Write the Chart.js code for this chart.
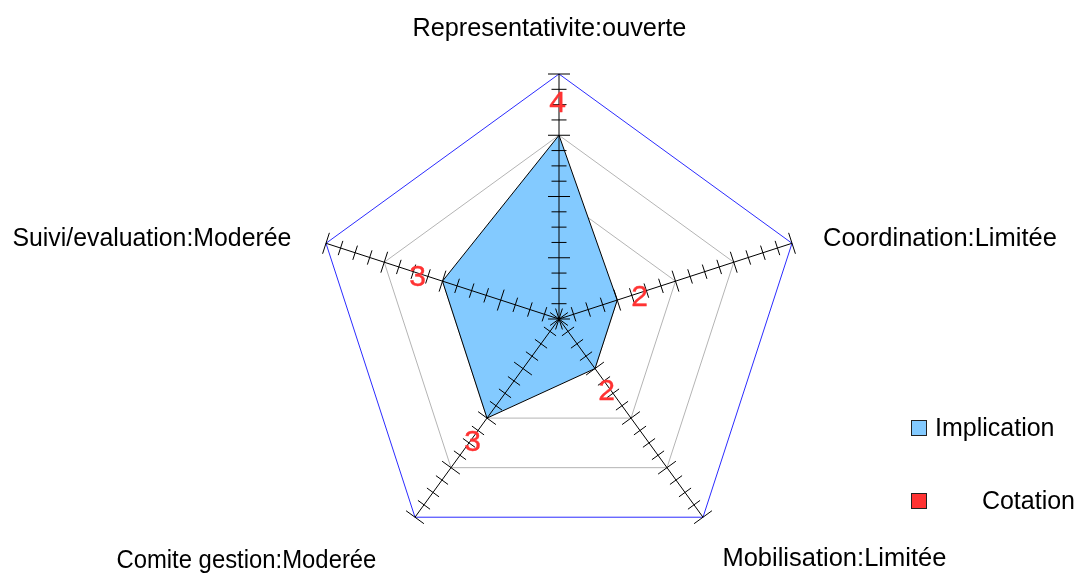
<!DOCTYPE html>
<html><head><meta charset="utf-8">
<script src="https://cdn.jsdelivr.net/npm/chart.js@4/dist/chart.umd.min.js"></script>
<style>html,body{margin:0;padding:0;background:#fff;overflow:hidden}</style>
</head><body>
<canvas id="c" width="1080" height="573"></canvas>
<script>
const categories = ["Representativite:ouverte", "Coordination:Limitée", "Mobilisation:Limitée", "Comite gestion:Moderée", "Suivi/evaluation:Moderée"];
const implication = [4, 2, 2, 3, 3];
const cotation = [4, 2, 2, 3, 3];
const seriesNames = ["Implication", "Cotation"];
const scaleMin = 1, scaleMax = 5, scaleStep = 1, minorStep = 0.25;

const FONT = '"Liberation Sans", Arial, sans-serif';
const FILL_BLUE = 'rgb(131,202,255)';
const RED = '#ff3333';

// label anchor offsets relative to each outer vertex: [dx, dy, align, maxWidth]
const labelOffsets = [[-9.6, -37.6, 'center', 274], [31, 3, 'left', 239], [19.4, 49, 'left', 228], [-38.6, 50.5, 'right', 260], [-34.6, 3, 'right', 279]];
// red value label offsets relative to each data point
const valueLabelOffsets = [[-1.3, -31.6], [22.4, -2.4], [11.7, 23.6], [-14.3, 24.6], [-24.8, -3.4]];

const overlay = {
  id: 'overlay',
  afterDatasetsDraw(chart) {
    const s = chart.scales.r, ctx = chart.ctx;
    ctx.save();
    ctx.strokeStyle = '#000';
    ctx.lineWidth = 1;
    const steps = Math.round((scaleMax - scaleMin) / minorStep);
    const perMajor = Math.round(scaleStep / minorStep);
    for (let i = 0; i < categories.length; i++) {
      const a = s.getIndexAngle(i) - Math.PI / 2;
      const px = -Math.sin(a), py = Math.cos(a);
      const c = s.getPointPositionForValue(i, scaleMin);
      const e = s.getPointPositionForValue(i, scaleMax);
      ctx.beginPath(); ctx.moveTo(c.x, c.y); ctx.lineTo(e.x, e.y); ctx.stroke();
      for (let k = 0; k <= steps; k++) {
        const p = s.getPointPositionForValue(i, scaleMin + k * minorStep);
        const h = (k % perMajor === 0) ? 11 : 7.5;
        ctx.beginPath();
        ctx.moveTo(p.x - px * h, p.y - py * h);
        ctx.lineTo(p.x + px * h, p.y + py * h);
        ctx.stroke();
      }
    }
    ctx.fillStyle = RED;
    ctx.strokeStyle = RED;
    ctx.lineWidth = 0.4;
    ctx.font = '30px ' + FONT;
    ctx.textAlign = 'center';
    ctx.textBaseline = 'middle';
    cotation.forEach((v, i) => {
      const p = s.getPointPositionForValue(i, v);
      const o = valueLabelOffsets[i];
      ctx.fillText(String(v), p.x + o[0], p.y + o[1]);
      ctx.strokeText(String(v), p.x + o[0], p.y + o[1]);
    });
    ctx.restore();
  },
  afterDraw(chart) {
    const s = chart.scales.r, ctx = chart.ctx;
    ctx.save();
    ctx.fillStyle = '#000';
    ctx.font = '25.5px ' + FONT;
    ctx.textBaseline = 'alphabetic';
    categories.forEach((lab, i) => {
      const v = s.getPointPositionForValue(i, scaleMax);
      const o = labelOffsets[i];
      ctx.textAlign = o[2];
      ctx.fillText(lab, v.x + o[0], v.y + o[1], o[3]);
    });
    // legend
    const items = [
      {name: seriesNames[0], color: FILL_BLUE, box: [911, 420], text: [935, 436, 'left']},
      {name: seriesNames[1], color: RED, box: [911, 493], text: [1075, 508.5, 'right']}
    ];
    ctx.font = '25px ' + FONT;
    items.forEach(it => {
      ctx.fillStyle = it.color;
      ctx.fillRect(it.box[0], it.box[1], 16, 16);
      ctx.strokeStyle = '#222';
      ctx.lineWidth = 1;
      ctx.strokeRect(it.box[0] + 0.5, it.box[1] + 0.5, 15, 15);
      ctx.fillStyle = '#000';
      ctx.textAlign = it.text[2];
      ctx.fillText(it.name, it.text[0], it.text[1]);
    });
    ctx.restore();
  }
};

new Chart(document.getElementById('c'), {
  type: 'radar',
  data: {
    labels: categories,
    datasets: [
      {label: seriesNames[0], data: implication, backgroundColor: FILL_BLUE, borderColor: '#000', borderWidth: 1, fill: true, pointRadius: 0, tension: 0},
      {label: seriesNames[1], data: cotation, backgroundColor: RED, borderColor: RED, borderWidth: 0, fill: false, showLine: false, pointRadius: 0}
    ]
  },
  options: {
    responsive: false,
    animation: false,
    devicePixelRatio: 1,
    layout: {padding: {left: 314, right: 276, top: 74, bottom: 9}},
    plugins: {legend: {display: false}, tooltip: {enabled: false}},
    scales: {
      r: {
        min: scaleMin, max: scaleMax, beginAtZero: false,
        ticks: {display: false, stepSize: scaleStep},
        pointLabels: {display: false},
        angleLines: {display: false},
        grid: {
          color: (ctx) => (ctx.tick && ctx.tick.value === scaleMax) ? '#2b2bff' : '#b4b4b4',
          lineWidth: 1
        }
      }
    }
  },
  plugins: [overlay]
});
</script>
</body></html>
